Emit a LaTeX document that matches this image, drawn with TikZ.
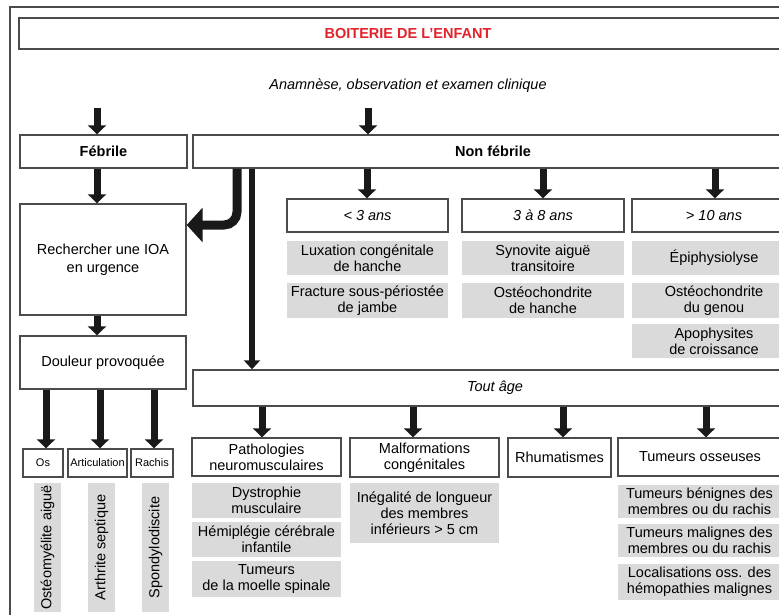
\documentclass[tikz,border=0pt]{standalone}
\usepackage{fontspec}
\setmainfont{Liberation Sans}
\usetikzlibrary{arrows.meta}
\definecolor{boxgray}{RGB}{218,218,218}
\definecolor{edge}{RGB}{75,75,75}
\definecolor{ink}{RGB}{25,25,25}
\definecolor{titlered}{RGB}{226,35,42}
\tikzset{
 every node/.style={font=\fontsize{14.5}{16}\selectfont, inner sep=0pt, align=center},
 plain/.style={draw=edge, line width=1.4pt, fill=white},
 small/.style={draw=edge, line width=1.4pt, fill=white, font=\fontsize{11}{12}\selectfont},
 shade/.style={fill=boxgray, draw=none},
 flow/.style={draw=ink, line width=7pt, -{Triangle[length=9pt,width=18pt]}},
 bigflow/.style={draw=ink, line width=9pt, rounded corners=13pt, -{Triangle[length=16pt,width=34pt]}},
 thinflow/.style={draw=ink, line width=6pt, -{Triangle[length=9pt,width=16pt]}},
}
\newcommand\mybox[7]{\node[#1, minimum width={#5-#3}, minimum height={#6-#4}] (#2) at ({(#3+#5)/2},{(#4+#6)/2}) {#7};}
\begin{document}
\begin{tikzpicture}[x=1pt,y=-1pt]
\useasboundingbox (0,0) rectangle (779,615);
\clip (0,0) rectangle (779,615);
\fill[white] (0,0) rectangle (779,615);
\draw[edge, line width=1.2pt] (10,7) rectangle (806,640);

% title
\mybox{plain,text=titlered}{title}{19}{18}{797}{49}{\bfseries BOITERIE DE L’ENFANT}
\node (anam) at (408,86) {\itshape Anamnèse, observation et examen clinique};

% level 1
\mybox{plain}{fe}{20}{135}{187}{168}{\bfseries Fébrile}
\mybox{plain}{nf}{193}{135}{793}{168}{\bfseries Non fébrile}

% febrile branch
\mybox{plain}{rech}{20}{204}{186}{315}{Rechercher une IOA\\[2pt]en urgence}
\mybox{plain}{dou}{20}{336}{186}{389}{Douleur provoquée}
\mybox{small}{os}{23}{449}{63}{477}{Os}
\mybox{small}{art}{68}{449}{127}{477}{Articulation}
\mybox{small}{rac}{131}{449}{173}{477}{Rachis}
\node[shade, rotate=90, minimum width=129, minimum height=27] (v1) at (47.5,547.5) {Ostéomyélite aiguë};
\node[shade, rotate=90, minimum width=129, minimum height=27] (v2) at (101.5,547.5) {Arthrite septique};
\node[shade, rotate=90, minimum width=129, minimum height=27] (v3) at (155.5,547.5) {Spondylodiscite};

% ages
\mybox{plain}{ag1}{287}{199}{448}{232}{\itshape < 3 ans}
\mybox{plain}{ag2}{462}{199}{624}{232}{\itshape 3 à 8 ans}
\mybox{plain}{ag3}{632}{199}{796}{232}{\itshape > 10 ans}
\mybox{shade}{g11}{287}{241}{448}{275}{Luxation congénitale\\de hanche}
\mybox{shade}{g12}{287}{283}{448}{318}{Fracture sous-périostée\\de jambe}
\mybox{shade}{g21}{462}{241}{624}{275}{Synovite aiguë\\transitoire}
\mybox{shade}{g22}{462}{283}{624}{318}{Ostéochondrite\\de hanche}
\mybox{shade}{g31}{632}{241}{796}{275}{Épiphysiolyse}
\mybox{shade}{g32}{632}{283}{796}{318}{Ostéochondrite\\du genou}
\mybox{shade}{g33}{632}{324}{796}{358}{Apophysites\\de croissance}

% tout age
\mybox{plain}{ta}{193}{370}{797}{406}{\itshape Tout âge}
\mybox{plain}{pa}{192}{438}{341}{476}{Pathologies\\neuromusculaires}
\mybox{plain}{ma}{350}{438}{499}{477}{Malformations\\congénitales}
\mybox{plain}{rh}{508}{438}{611}{477}{Rhumatismes}
\mybox{plain}{tu}{618}{438}{782}{476}{Tumeurs osseuses}
\mybox{shade}{p1}{192}{483}{341}{518}{Dystrophie\\musculaire}
\mybox{shade}{p2}{192}{522}{341}{557}{Hémiplégie cérébrale\\infantile}
\mybox{shade}{p3}{192}{561}{341}{597}{Tumeurs\\de la moelle spinale}
\mybox{shade}{m1}{350}{483}{499}{543}{Inégalité de longueur\\des membres\\inférieurs > 5 cm}
\mybox{shade}{t1}{618}{485}{781}{518}{Tumeurs bénignes des\\membres ou du rachis}
\mybox{shade}{t2}{618}{524}{781}{557}{Tumeurs malignes des\\membres ou du rachis}
\mybox{shade}{t3}{618}{564}{781}{600}{Localisations oss. des\\hémopathies malignes}

% connectors
\coordinate (a1) at (97,108);
\coordinate (a2) at (368,108);
\draw[flow] (a1) -- (fe.north -| a1);
\draw[flow] (a2) -- (nf.north -| a2);
\draw[flow] (fe.south -| a1) -- (rech.north -| a1);
\draw[flow] (rech.south -| a1) -- (dou.north -| a1);
\coordinate (d1) at (46,0);
\coordinate (d2) at (100,0);
\coordinate (d3) at (154,0);
\draw[flow] (dou.south -| d1) -- (os.north -| d1);
\draw[flow] (dou.south -| d2) -- (art.north -| d2);
\draw[flow] (dou.south -| d3) -- (rac.north -| d3);
\coordinate (n1) at (367,0);
\coordinate (n2) at (543,0);
\coordinate (n3) at (715,0);
\draw[flow] (nf.south -| n1) -- (ag1.north -| n1);
\draw[flow] (nf.south -| n2) -- (ag2.north -| n2);
\draw[flow] (nf.south -| n3) -- (ag3.north -| n3);
\coordinate (c1) at (237,225);
\draw[bigflow] (nf.south -| c1) |- (rech.east |- c1);
\coordinate (c2) at (252,0);
\draw[thinflow] (nf.south -| c2) -- (ta.north -| c2);
\coordinate (u1) at (262,0);
\coordinate (u2) at (413,0);
\coordinate (u3) at (563,0);
\coordinate (u4) at (706,0);
\draw[flow] (ta.south -| u1) -- (pa.north -| u1);
\draw[flow] (ta.south -| u2) -- (ma.north -| u2);
\draw[flow] (ta.south -| u3) -- (rh.north -| u3);
\draw[flow] (ta.south -| u4) -- (tu.north -| u4);
\end{tikzpicture}
\end{document}
